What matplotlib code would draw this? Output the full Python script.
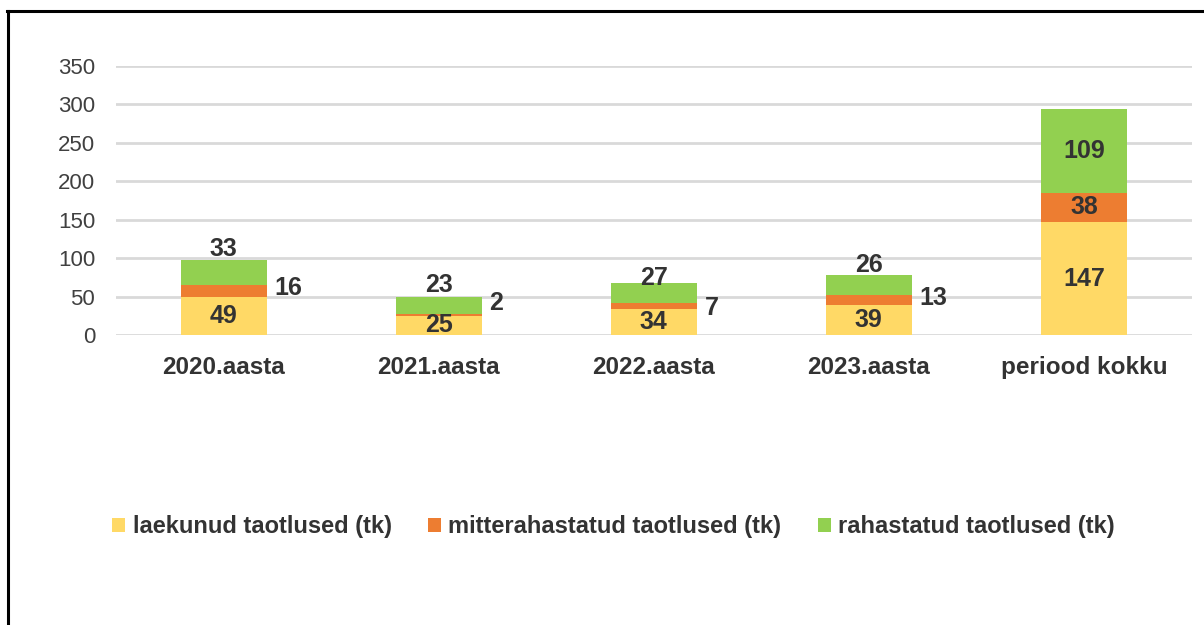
import numpy as np
import matplotlib.pyplot as plt
import matplotlib as mpl

plt.rcParams['font.family'] = ['Liberation Sans', 'DejaVu Sans']

categories = ['2020.aasta', '2021.aasta', '2022.aasta', '2023.aasta', 'periood kokku']
laekunud = [49, 25, 34, 39, 147]
mitterahastatud = [16, 2, 7, 13, 38]
rahastatud = [33, 23, 27, 26, 109]
series_names = ['laekunud taotlused (tk)', 'mitterahastatud taotlused (tk)', 'rahastatud taotlused (tk)']
yticks = [0, 50, 100, 150, 200, 250, 300, 350]

colors = ['#FFD966', '#ED7D31', '#92D050']
txt = '#333333'

W, H = 1204, 625
fig = plt.figure(figsize=(W / 100, H / 100), dpi=100)
ax = fig.add_axes([116 / W, 290 / H, (1191.5 - 116) / W, 269 / H])

x = np.arange(len(categories))
w = 0.4
b1 = ax.bar(x, laekunud, w, color=colors[0], label=series_names[0], zorder=2)
b2 = ax.bar(x, mitterahastatud, w, bottom=laekunud, color=colors[1], label=series_names[1], zorder=2)
bottom3 = np.array(laekunud) + np.array(mitterahastatud)
b3 = ax.bar(x, rahastatud, w, bottom=bottom3, color=colors[2], label=series_names[2], zorder=2)

lab = dict(fontsize=18, fontweight='bold', color=txt, zorder=3)

# yellow labels: centered
for i, v in enumerate(laekunud):
    ax.text(x[i], v / 2, str(v), ha='center', va='center', **lab)

# orange labels: right of bar for years, inside for total
orange_dy = [3, 12, -2, 2]  # pixel nudges (up)
for i, v in enumerate(mitterahastatud):
    yc = laekunud[i] + v / 2
    if i < 4:
        ax.annotate(str(v), (x[i] + w / 2, yc), xytext=(5.5, orange_dy[i] * 0.72),
                    textcoords='offset points', ha='left', va='center', **lab)
    else:
        ax.text(x[i], yc, str(v), ha='center', va='center', **lab)

# green labels: above bar for years, inside for total
green_dy = [11, 12, 5, 10.5]
for i, v in enumerate(rahastatud):
    top = bottom3[i] + v
    if i < 4:
        ax.annotate(str(v), (x[i], top), xytext=(0, green_dy[i] * 0.72),
                    textcoords='offset points', ha='center', va='center', **lab)
    else:
        ax.text(x[i], bottom3[i] + v / 2, str(v), ha='center', va='center', **lab)

ax.set_xlim(-0.5, len(categories) - 0.5)
ax.set_ylim(0, 350)
ax.set_yticks(yticks)
ax.yaxis.grid(True, color='#D9D9D9', linewidth=2, zorder=0)
ax.set_axisbelow(True)
for s in ax.spines.values():
    s.set_visible(False)
ax.tick_params(axis='both', length=0)
ax.tick_params(axis='y', labelsize=16, labelcolor='#404040', pad=15)
ax.tick_params(axis='x', labelsize=17.5, labelcolor=txt, pad=15)
ax.set_xticks(x)
ax.set_xticklabels(categories, fontweight='bold')

leg = fig.legend(handles=[b1, b2, b3], labels=series_names, loc='center',
                 bbox_to_anchor=(613.5 / W, 1 - 527 / H), ncol=3, frameon=False,
                 prop={'size': 17, 'weight': 'bold'}, handlelength=0.55, handleheight=0.55,
                 handletextpad=0.3, columnspacing=1.55)
for t in leg.get_texts():
    t.set_color(txt)

# outer frame (left and top edges)
fig.add_artist(mpl.lines.Line2D([8 / W, 8 / W], [0, 1 - 11 / H], color='black', linewidth=2.2))
fig.add_artist(mpl.lines.Line2D([7 / W, 1], [1 - 11 / H, 1 - 11 / H], color='black', linewidth=2.2))

fig.savefig('out.png', dpi=100)
